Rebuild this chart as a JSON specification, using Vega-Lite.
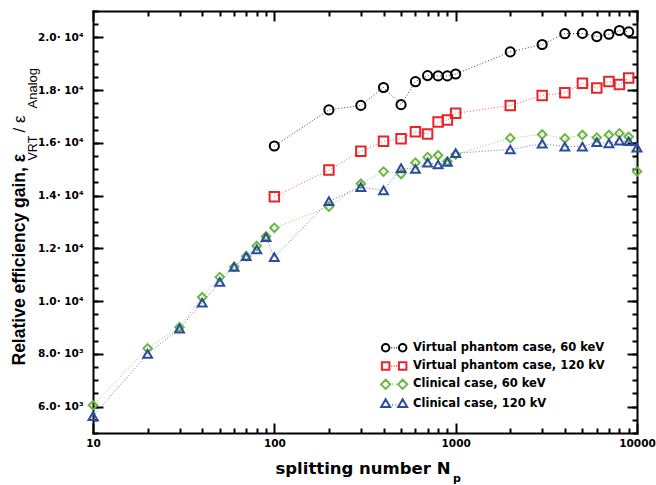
{
  "$schema": "https://vega.github.io/schema/vega-lite/v6.json",
  "width": 544,
  "height": 422,
  "autosize": {"type": "none"},
  "padding": {"left": 93, "top": 11, "right": 19, "bottom": 52},
  "background": "white",
  "config": {
    "view": {"stroke": null},
    "axis": {
      "grid": false,
      "tickColor": "black",
      "tickWidth": 2,
      "domainColor": "black",
      "domainWidth": 2,
      "domainCap": "square",
      "labelColor": "black",
      "titleColor": "black",
      "labelFont": "DejaVu Sans",
      "labelFontWeight": "bold",
      "labelFontSize": 10.5
    },
    "legend": {
      "orient": "none", "legendX": 295.4, "legendY": 331, "title": null, "padding": 0,
      "labelFont": "DejaVu Sans", "labelFontWeight": "bold", "labelFontSize": 11.5, "labelColor": "black",
      "labelLimit": 0, "symbolOpacity": 1, "symbolFillColor": "transparent",
      "symbolSize": 64, "labelOffset": 13.2, "rowPadding": 1.3, "symbolStrokeWidth": 2
    }
  },
  "datasets": {
    "pts": [
      {"s": "Virtual phantom case, 60 keV", "n": 100, "g": 15880},
      {"s": "Virtual phantom case, 60 keV", "n": 200, "g": 17250},
      {"s": "Virtual phantom case, 60 keV", "n": 300, "g": 17420},
      {"s": "Virtual phantom case, 60 keV", "n": 400, "g": 18100},
      {"s": "Virtual phantom case, 60 keV", "n": 500, "g": 17450},
      {"s": "Virtual phantom case, 60 keV", "n": 600, "g": 18320},
      {"s": "Virtual phantom case, 60 keV", "n": 700, "g": 18550},
      {"s": "Virtual phantom case, 60 keV", "n": 800, "g": 18540},
      {"s": "Virtual phantom case, 60 keV", "n": 900, "g": 18540},
      {"s": "Virtual phantom case, 60 keV", "n": 1000, "g": 18610},
      {"s": "Virtual phantom case, 60 keV", "n": 2000, "g": 19450},
      {"s": "Virtual phantom case, 60 keV", "n": 3000, "g": 19730},
      {"s": "Virtual phantom case, 60 keV", "n": 4000, "g": 20140},
      {"s": "Virtual phantom case, 60 keV", "n": 5000, "g": 20150},
      {"s": "Virtual phantom case, 60 keV", "n": 6000, "g": 20030},
      {"s": "Virtual phantom case, 60 keV", "n": 7000, "g": 20120},
      {"s": "Virtual phantom case, 60 keV", "n": 8000, "g": 20260},
      {"s": "Virtual phantom case, 60 keV", "n": 9000, "g": 20210},
      {"s": "Virtual phantom case, 120 kV", "n": 100, "g": 13960},
      {"s": "Virtual phantom case, 120 kV", "n": 200, "g": 14970},
      {"s": "Virtual phantom case, 120 kV", "n": 300, "g": 15680},
      {"s": "Virtual phantom case, 120 kV", "n": 400, "g": 16060},
      {"s": "Virtual phantom case, 120 kV", "n": 500, "g": 16160},
      {"s": "Virtual phantom case, 120 kV", "n": 600, "g": 16420},
      {"s": "Virtual phantom case, 120 kV", "n": 700, "g": 16340},
      {"s": "Virtual phantom case, 120 kV", "n": 800, "g": 16790},
      {"s": "Virtual phantom case, 120 kV", "n": 900, "g": 16870},
      {"s": "Virtual phantom case, 120 kV", "n": 1000, "g": 17120},
      {"s": "Virtual phantom case, 120 kV", "n": 2000, "g": 17420},
      {"s": "Virtual phantom case, 120 kV", "n": 3000, "g": 17800},
      {"s": "Virtual phantom case, 120 kV", "n": 4000, "g": 17900},
      {"s": "Virtual phantom case, 120 kV", "n": 5000, "g": 18260},
      {"s": "Virtual phantom case, 120 kV", "n": 6000, "g": 18080},
      {"s": "Virtual phantom case, 120 kV", "n": 7000, "g": 18330},
      {"s": "Virtual phantom case, 120 kV", "n": 8000, "g": 18210},
      {"s": "Virtual phantom case, 120 kV", "n": 9000, "g": 18460},
      {"s": "Clinical case, 60 keV", "n": 10, "g": 6050},
      {"s": "Clinical case, 60 keV", "n": 20, "g": 8210},
      {"s": "Clinical case, 60 keV", "n": 30, "g": 9010},
      {"s": "Clinical case, 60 keV", "n": 40, "g": 10150},
      {"s": "Clinical case, 60 keV", "n": 50, "g": 10910},
      {"s": "Clinical case, 60 keV", "n": 60, "g": 11300},
      {"s": "Clinical case, 60 keV", "n": 70, "g": 11700},
      {"s": "Clinical case, 60 keV", "n": 80, "g": 12090},
      {"s": "Clinical case, 60 keV", "n": 90, "g": 12450},
      {"s": "Clinical case, 60 keV", "n": 100, "g": 12780},
      {"s": "Clinical case, 60 keV", "n": 200, "g": 13580},
      {"s": "Clinical case, 60 keV", "n": 300, "g": 14450},
      {"s": "Clinical case, 60 keV", "n": 400, "g": 14910},
      {"s": "Clinical case, 60 keV", "n": 500, "g": 14820},
      {"s": "Clinical case, 60 keV", "n": 600, "g": 15250},
      {"s": "Clinical case, 60 keV", "n": 700, "g": 15460},
      {"s": "Clinical case, 60 keV", "n": 800, "g": 15530},
      {"s": "Clinical case, 60 keV", "n": 900, "g": 15300},
      {"s": "Clinical case, 60 keV", "n": 1000, "g": 15560},
      {"s": "Clinical case, 60 keV", "n": 2000, "g": 16180},
      {"s": "Clinical case, 60 keV", "n": 3000, "g": 16320},
      {"s": "Clinical case, 60 keV", "n": 4000, "g": 16170},
      {"s": "Clinical case, 60 keV", "n": 5000, "g": 16300},
      {"s": "Clinical case, 60 keV", "n": 6000, "g": 16200},
      {"s": "Clinical case, 60 keV", "n": 7000, "g": 16300},
      {"s": "Clinical case, 60 keV", "n": 8000, "g": 16360},
      {"s": "Clinical case, 60 keV", "n": 9000, "g": 16230},
      {"s": "Clinical case, 60 keV", "n": 10000, "g": 14910},
      {"s": "Clinical case, 120 kV", "n": 10, "g": 5640},
      {"s": "Clinical case, 120 kV", "n": 20, "g": 8000},
      {"s": "Clinical case, 120 kV", "n": 30, "g": 8960},
      {"s": "Clinical case, 120 kV", "n": 40, "g": 9940},
      {"s": "Clinical case, 120 kV", "n": 50, "g": 10730},
      {"s": "Clinical case, 120 kV", "n": 60, "g": 11300},
      {"s": "Clinical case, 120 kV", "n": 70, "g": 11700},
      {"s": "Clinical case, 120 kV", "n": 80, "g": 11960},
      {"s": "Clinical case, 120 kV", "n": 90, "g": 12420},
      {"s": "Clinical case, 120 kV", "n": 100, "g": 11670},
      {"s": "Clinical case, 120 kV", "n": 200, "g": 13790},
      {"s": "Clinical case, 120 kV", "n": 300, "g": 14320},
      {"s": "Clinical case, 120 kV", "n": 400, "g": 14200},
      {"s": "Clinical case, 120 kV", "n": 500, "g": 15040},
      {"s": "Clinical case, 120 kV", "n": 600, "g": 15010},
      {"s": "Clinical case, 120 kV", "n": 700, "g": 15250},
      {"s": "Clinical case, 120 kV", "n": 800, "g": 15180},
      {"s": "Clinical case, 120 kV", "n": 900, "g": 15280},
      {"s": "Clinical case, 120 kV", "n": 1000, "g": 15610},
      {"s": "Clinical case, 120 kV", "n": 2000, "g": 15750},
      {"s": "Clinical case, 120 kV", "n": 3000, "g": 15970},
      {"s": "Clinical case, 120 kV", "n": 4000, "g": 15860},
      {"s": "Clinical case, 120 kV", "n": 5000, "g": 15860},
      {"s": "Clinical case, 120 kV", "n": 6000, "g": 16030},
      {"s": "Clinical case, 120 kV", "n": 7000, "g": 15980},
      {"s": "Clinical case, 120 kV", "n": 8000, "g": 16080},
      {"s": "Clinical case, 120 kV", "n": 9000, "g": 16060},
      {"s": "Clinical case, 120 kV", "n": 10000, "g": 15820}
    ]
  },
  "data": {"name": "pts"},
  "layer": [
    {
      "mark": {"type": "line", "strokeDash": [1, 2], "strokeWidth": 1, "opacity": 0.75},
      "encoding": {
        "x": {
          "field": "n", "type": "quantitative",
          "scale": {"type": "log", "domain": [10, 10000], "nice": false},
          "axis": {
            "orient": "bottom", "values": [10, 100, 1000, 10000], "format": "d",
            "tickSize": -10, "labelPadding": 15, "labelFlush": false, "labelOverlap": false,
            "title": "splitting number N", "titleFont": "DejaVu Sans", "titleFontWeight": "bold",
            "titleFontSize": 16.5, "titleAngle": 0, "titleAlign": "right", "titleBaseline": "alphabetic",
            "titleX": 357, "titleY": 40
          }
        },
        "y": {
          "field": "g", "type": "quantitative",
          "scale": {"domain": [5000, 21000], "nice": false, "zero": false},
          "axis": {
            "orient": "left", "values": [6000, 8000, 10000, 12000, 14000, 16000, 18000, 20000],
            "tickSize": -10, "labelPadding": 20, "labelOverlap": false, "labelFlush": false,
            "labelExpr": "datum.value >= 10000 ? format(datum.value/10000, '.1f') + '· 10⁴' : format(datum.value/1000, '.1f') + '· 10³'",
            "title": "Relative efficiency gain, ε", "titleFont": "Liberation Sans", "titleFontWeight": "bold",
            "titleFontSize": 17.5, "titleAngle": -90, "titleAlign": "left", "titleBaseline": "alphabetic",
            "titleX": -68.5, "titleY": 354
          }
        },
        "color": {
          "field": "s", "type": "nominal",
          "scale": {
            "domain": ["Virtual phantom case, 60 keV", "Virtual phantom case, 120 kV", "Clinical case, 60 keV", "Clinical case, 120 kV"],
            "range": ["#000000", "#e8242b", "#6ab843", "#2b4c9e"]
          },
          "legend": null
        }
      }
    },
    {
      "mark": {"type": "point", "filled": false, "strokeWidth": 2, "opacity": 1},
      "encoding": {
        "x": {
          "field": "n", "type": "quantitative",
          "scale": {"type": "log", "domain": [10, 10000], "nice": false},
          "axis": {
            "orient": "bottom",
            "values": [20, 30, 40, 50, 60, 70, 80, 90, 200, 300, 400, 500, 600, 700, 800, 900, 2000, 3000, 4000, 5000, 6000, 7000, 8000, 9000],
            "tickSize": -5, "labels": false, "domain": false,
            "title": "p", "titleFont": "DejaVu Sans", "titleFontWeight": "bold", "titleFontSize": 11,
            "titleAngle": 0, "titleAlign": "left", "titleBaseline": "alphabetic",
            "titleX": 359.5, "titleY": 48.5
          }
        },
        "y": {
          "field": "g", "type": "quantitative",
          "scale": {"domain": [5000, 21000], "nice": false, "zero": false},
          "axis": {
            "orient": "left",
            "values": [5000, 5500, 6000, 6500, 7000, 7500, 8000, 8500, 9000, 9500, 10000, 10500, 11000, 11500, 12000, 12500, 13000, 13500, 14000, 14500, 15000, 15500, 16000, 16500, 17000, 17500, 18000, 18500, 19000, 19500, 20000, 20500, 21000],
            "tickSize": -5, "labels": false, "domain": false,
            "title": "VRT", "titleFont": "Liberation Sans", "titleFontWeight": "normal", "titleFontSize": 12.5,
            "titleAngle": -90, "titleAlign": "left", "titleBaseline": "alphabetic",
            "titleX": -57, "titleY": 149
          }
        },
        "color": {
          "field": "s", "type": "nominal",
          "scale": {
            "domain": ["Virtual phantom case, 60 keV", "Virtual phantom case, 120 kV", "Clinical case, 60 keV", "Clinical case, 120 kV"],
            "range": ["#000000", "#e8242b", "#6ab843", "#2b4c9e"]
          },
          "legend": null
        },
        "shape": {
          "field": "s", "type": "nominal",
          "scale": {
            "domain": ["Clinical case, 120 kV", "Clinical case, 60 keV", "Virtual phantom case, 120 kV", "Virtual phantom case, 60 keV"],
            "range": ["triangle-up", "diamond", "square", "circle"]
          },
          "legend": null
        },
        "size": {
          "field": "s", "type": "nominal",
          "scale": {
            "domain": ["Clinical case, 60 keV", "Clinical case, 120 kV", "Virtual phantom case, 60 keV", "Virtual phantom case, 120 kV"],
            "range": [72, 90, 58, 56]
          },
          "legend": null
        }
      }
    },
    {
      "mark": {"type": "point", "opacity": 0},
      "encoding": {
        "x": {
          "field": "n", "type": "quantitative",
          "scale": {"type": "log", "domain": [10, 10000], "nice": false},
          "axis": {"orient": "top", "values": [10, 100, 1000, 10000], "tickSize": -10, "labels": false, "domain": true, "title": null}
        },
        "y": {
          "field": "g", "type": "quantitative",
          "scale": {"domain": [5000, 21000], "nice": false, "zero": false},
          "axis": {
            "orient": "right", "values": [6000, 8000, 10000, 12000, 14000, 16000, 18000, 20000],
            "tickSize": -10, "labels": false, "domain": true,
            "title": "/ ε", "titleFont": "Liberation Sans", "titleFontWeight": "normal", "titleFontSize": 17,
            "titleAngle": -90, "titleAlign": "left", "titleBaseline": "alphabetic",
            "titleX": -612.5, "titleY": 121
          }
        }
      }
    },
    {
      "mark": {"type": "point", "opacity": 0},
      "encoding": {
        "x": {
          "field": "n", "type": "quantitative",
          "scale": {"type": "log", "domain": [10, 10000], "nice": false},
          "axis": {
            "orient": "top",
            "values": [20, 30, 40, 50, 60, 70, 80, 90, 200, 300, 400, 500, 600, 700, 800, 900, 2000, 3000, 4000, 5000, 6000, 7000, 8000, 9000],
            "tickSize": -5, "labels": false, "domain": false, "title": null
          }
        },
        "y": {
          "field": "g", "type": "quantitative",
          "scale": {"domain": [5000, 21000], "nice": false, "zero": false},
          "axis": {
            "orient": "right",
            "values": [5000, 5500, 6000, 6500, 7000, 7500, 8000, 8500, 9000, 9500, 10000, 10500, 11000, 11500, 12000, 12500, 13000, 13500, 14000, 14500, 15000, 15500, 16000, 16500, 17000, 17500, 18000, 18500, 19000, 19500, 20000, 20500, 21000],
            "tickSize": -5, "labels": false, "domain": false,
            "title": "Analog", "titleFont": "Liberation Sans", "titleFontWeight": "normal", "titleFontSize": 13,
            "titleAngle": -90, "titleAlign": "left", "titleBaseline": "alphabetic",
            "titleX": -601, "titleY": 97
          }
        }
      }
    },
    {
      "mark": {"type": "point", "opacity": 0, "filled": false},
      "encoding": {
        "x": {"field": "n", "type": "quantitative", "scale": {"type": "log", "domain": [10, 10000], "nice": false}, "axis": null},
        "y": {"field": "g", "type": "quantitative", "scale": {"domain": [5000, 21000], "nice": false, "zero": false}, "axis": null},
        "color": {
          "field": "s", "type": "nominal",
          "scale": {
            "domain": ["Virtual phantom case, 60 keV", "Virtual phantom case, 120 kV", "Clinical case, 60 keV", "Clinical case, 120 kV"],
            "range": ["#000000", "#e8242b", "#6ab843", "#2b4c9e"]
          },
          "legend": {"title": null}
        },
        "shape": {
          "field": "s", "type": "nominal",
          "scale": {
            "domain": ["Virtual phantom case, 60 keV", "Virtual phantom case, 120 kV", "Clinical case, 60 keV", "Clinical case, 120 kV"],
            "range": [
              "M-3.065,0a0.94,0.94 0 1,0 1.88,0a0.94,0.94 0 1,0 -1.88,0M1.185,0a0.94,0.94 0 1,0 1.88,0a0.94,0.94 0 1,0 -1.88,0M-0.65,0h0.15M-0.08,0h0.15M0.5,0h0.15",
              "M-3.06,-0.94h1.875v1.875h-1.875zM1.19,-0.94h1.875v1.875h-1.875zM-0.65,0h0.15M-0.08,0h0.15M0.5,0h0.15",
              "M-3.275,0L-2.125,-1.15L-0.975,0L-2.125,1.15zM0.975,0L2.125,-1.15L3.275,0L2.125,1.15zM-0.5,0h0.15M0.35,0h0.15",
              "M-2.125,-1.1L-1.0,0.85L-3.25,0.85zM2.125,-1.1L3.25,0.85L1.0,0.85zM-0.5,0.3h0.15M0.35,0.3h0.15"
            ]
          },
          "legend": {"title": null}
        }
      }
    }
  ],
  "resolve": {"axis": {"x": "independent", "y": "independent"}, "scale": {"shape": "independent", "color": "independent"}}
}
